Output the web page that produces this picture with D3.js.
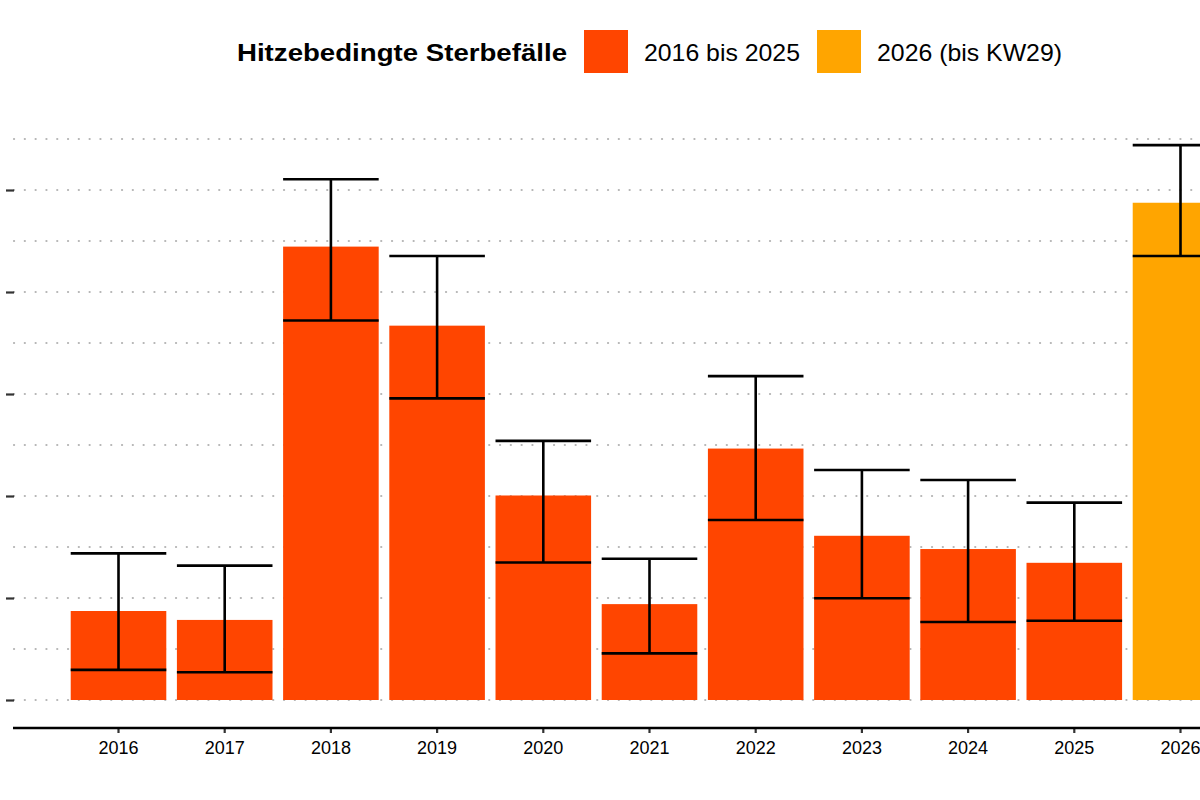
<!DOCTYPE html>
<html>
<head>
<meta charset="utf-8">
<title>Hitzebedingte Sterbefälle</title>
<script src="https://d3js.org/d3.v7.min.js"></script>
<style>
  body { margin: 0; background: #fff; }
  svg text { font-family: "Liberation Sans", Arial, sans-serif; fill: #000; }
  .grid line { stroke: #b4b4b4; stroke-width: 2.2; stroke-linecap: round; stroke-dasharray: 0.1 10.7; }
  .y.axis line { stroke: #333; stroke-width: 2.2; }
  .x.axis line { stroke: #333; stroke-width: 2.2; }
  .x.axis text { font-size: 18px; }
</style>
</head>
<body>
<svg id="chart" width="1200" height="800"></svg>
<script>
// years and estimates
const years = ["2016","2017","2018","2019","2020","2021","2022","2023","2024","2025","2026"];
const deaths = [1745, 1570, 8890, 7340, 4010, 1880, 4930, 3220, 2960, 2690, 9750];
const lower  = [ 590,  545, 7440, 5915, 2695,  915, 3530, 1995, 1530, 1555, 8705];
const upper  = [2875, 2635,10210, 8705, 5080, 2770, 6350, 4510, 4315, 3870,10880];
const groups = ["2016 bis 2025", "2026 (bis KW29)"];
const colors = ["#ff4500", "#ffa500"];
const gridValues = d3.range(0, 11001, 1000);
const tickValues = d3.range(0, 10001, 2000);

const data = years.map((y, i) => ({
  year: y, value: deaths[i], lo: lower[i], hi: upper[i],
  group: y === "2026" ? groups[1] : groups[0]
}));

const svg = d3.select("#chart");
const width = +svg.attr("width");
const yZero = 700, axisY = 728;

const x = d3.scaleBand().domain(years).range([65.4, 1233.6])
  .paddingInner(0.1).paddingOuter(0.05);
const y = d3.scaleLinear().domain([0, 10000]).range([yZero, 190]);
const color = d3.scaleOrdinal().domain(groups).range(colors);

// dotted gridlines
svg.append("g").attr("class", "grid")
  .selectAll("line").data(gridValues).enter().append("line")
  .attr("x1", 14).attr("x2", width)
  .attr("y1", d => y(d)).attr("y2", d => y(d));

// y axis ticks (labels fall outside the crop)
svg.append("g").attr("class", "y axis")
  .attr("transform", "translate(14,0)")
  .call(d3.axisLeft(y).tickValues(tickValues).tickSize(8).tickFormat(""))
  .call(g => g.select(".domain").remove());

// bars
svg.append("g").selectAll("rect").data(data).enter().append("rect")
  .attr("x", d => x(d.year))
  .attr("width", x.bandwidth())
  .attr("y", d => y(d.value))
  .attr("height", d => y(0) - y(d.value))
  .attr("fill", d => color(d.group));

// error bars
const err = svg.append("g").attr("stroke", "#000").attr("stroke-width", 2.6).attr("fill", "none");
data.forEach(d => {
  const x0 = x(d.year), x1 = x0 + x.bandwidth(), xc = x0 + x.bandwidth() / 2;
  err.append("line").attr("x1", xc).attr("x2", xc).attr("y1", y(d.lo)).attr("y2", y(d.hi));
  err.append("line").attr("x1", x0).attr("x2", x1).attr("y1", y(d.hi)).attr("y2", y(d.hi));
  err.append("line").attr("x1", x0).attr("x2", x1).attr("y1", y(d.lo)).attr("y2", y(d.lo));
});

// x axis
const xAxis = svg.append("g").attr("class", "x axis")
  .attr("transform", "translate(0," + axisY + ")")
  .call(d3.axisBottom(x).tickSize(5).tickSizeOuter(0).tickPadding(8));
xAxis.select(".domain").remove();
xAxis.selectAll("text").attr("dy", "0.71em");
svg.append("line")
  .attr("x1", 13).attr("x2", width)
  .attr("y1", axisY).attr("y2", axisY)
  .attr("stroke", "#000").attr("stroke-width", 2.6);

// legend
const legend = svg.append("g");
legend.append("text").attr("x", 237).attr("y", 61)
  .attr("font-size", 24.5).attr("font-weight", "bold")
  .attr("textLength", 330).attr("lengthAdjust", "spacingAndGlyphs")
  .text("Hitzebedingte Sterbefälle");
const legX = [584, 817];
const legW = [156, 185];
groups.forEach((g, i) => {
  legend.append("rect").attr("x", legX[i]).attr("y", 30)
    .attr("width", 44).attr("height", 43).attr("fill", colors[i]);
  legend.append("text").attr("x", legX[i] + 60).attr("y", 61)
    .attr("font-size", 24.5)
    .attr("textLength", legW[i]).attr("lengthAdjust", "spacingAndGlyphs")
    .text(g);
});
</script>
</body>
</html>
